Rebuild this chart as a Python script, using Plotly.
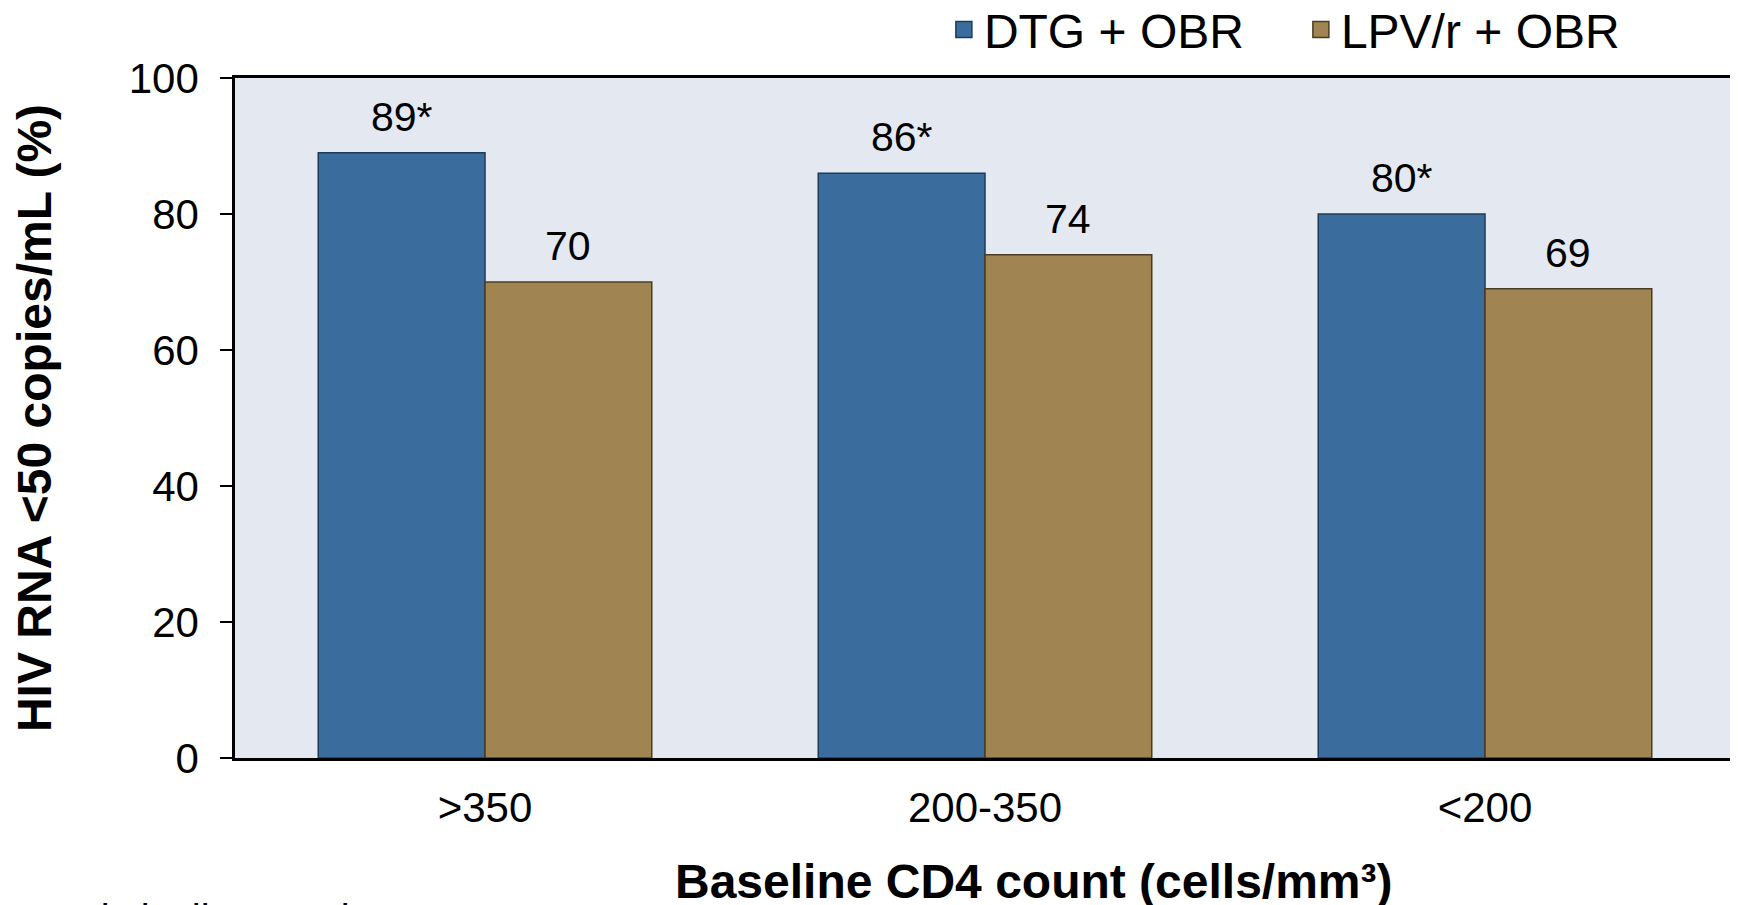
import plotly.graph_objects as go

categories = [">350", "200-350", "<200"]
dtg_values = [89, 86, 80]
lpv_values = [70, 74, 69]
dtg_labels = ["89*", "86*", "80*"]
lpv_labels = ["70", "74", "69"]
series_names = ["DTG + OBR", "LPV/r + OBR"]
y_ticks = [0, 20, 40, 60, 80, 100]

FONT = "Arial, Liberation Sans, sans-serif"
BLUE = "#3A6C9D"
GOLD = "#A08552"
BLUE_EDGE = "#1F3B5A"
GOLD_EDGE = "#4A3C22"

fig = go.Figure()
fig.add_trace(go.Bar(
    x=categories, y=dtg_values, name=series_names[0], showlegend=False,
    marker=dict(color=BLUE, line=dict(color=BLUE_EDGE, width=1.5)),
))
fig.add_trace(go.Bar(
    x=categories, y=lpv_values, name=series_names[1], showlegend=False,
    marker=dict(color=GOLD, line=dict(color=GOLD_EDGE, width=1.5)),
))
# legend-only entries with larger square swatches
fig.add_trace(go.Scatter(
    x=[None], y=[None], mode="markers", name=series_names[0],
    marker=dict(symbol="square", size=26, color=BLUE, line=dict(color=BLUE_EDGE, width=1.5)),
))
fig.add_trace(go.Scatter(
    x=[None], y=[None], mode="markers", name=series_names[1],
    marker=dict(symbol="square", size=26, color=GOLD, line=dict(color=GOLD_EDGE, width=1.5)),
))

# value labels above the bars
for cat, v, lab in zip(categories, dtg_values, dtg_labels):
    fig.add_annotation(x=cat, y=v, text=lab, xref="x", yref="y", showarrow=False,
                       xshift=-83, yshift=36, yanchor="middle",
                       font=dict(family=FONT, size=41, color="black"))
for cat, v, lab in zip(categories, lpv_values, lpv_labels):
    fig.add_annotation(x=cat, y=v, text=lab, xref="x", yref="y", showarrow=False,
                       xshift=83, yshift=36, yanchor="middle",
                       font=dict(family=FONT, size=41, color="black"))

# x-axis title (slightly right of centre, as in the original)
fig.add_annotation(text="<b>Baseline CD4 count (cells/mm³)</b>", xref="paper", yref="paper",
                   x=0.5327, y=-0.181, xanchor="center", yanchor="middle", showarrow=False,
                   font=dict(family=FONT, size=48, color="black"))

# footnote (mostly cut off at the bottom edge, as in the original)
fig.add_annotation(text="*Statistically superior", xref="paper", yref="paper",
                   x=-0.149, y=-0.202, xanchor="left", yanchor="top", showarrow=False,
                   font=dict(family=FONT, size=40, color="black"))

fig.update_layout(
    width=1738, height=905,
    margin=dict(l=227, r=11, t=70, b=155, autoexpand=False),
    paper_bgcolor="white",
    plot_bgcolor="#E4E9F1",
    barmode="group",
    bargap=0.333,
    bargroupgap=0,
    font=dict(family=FONT, color="black"),
    showlegend=True,
    legend=dict(
        orientation="h", xref="container", yref="container",
        x=0.9493, xanchor="right", y=0.976, yanchor="middle",
        font=dict(family=FONT, size=48, color="black"),
        bgcolor="rgba(0,0,0,0)", itemwidth=30, itemsizing="trace",
        entrywidth=312, entrywidthmode="pixels", traceorder="normal",
    ),
    xaxis=dict(
        automargin=False,
        showline=True, linecolor="black", linewidth=2.5, mirror=True,
        ticks="", tickfont=dict(family=FONT, size=42, color="black"),
        ticklabelstandoff=11,
    ),
    yaxis=dict(
        automargin=False,
        range=[0, 100], tickvals=y_ticks,
        showline=True, linecolor="black", linewidth=2.5, mirror=True,
        ticks="outside", ticklen=12, tickwidth=2, tickcolor="black",
        showgrid=False, zeroline=False,
        tickfont=dict(family=FONT, size=42, color="black"),
        ticklabelstandoff=13,
        title=dict(text="<b>HIV RNA <50 copies/mL (%)</b>",
                   font=dict(family=FONT, size=48, color="black"), standoff=64),
    ),
)

fig.write_html("out.html")
